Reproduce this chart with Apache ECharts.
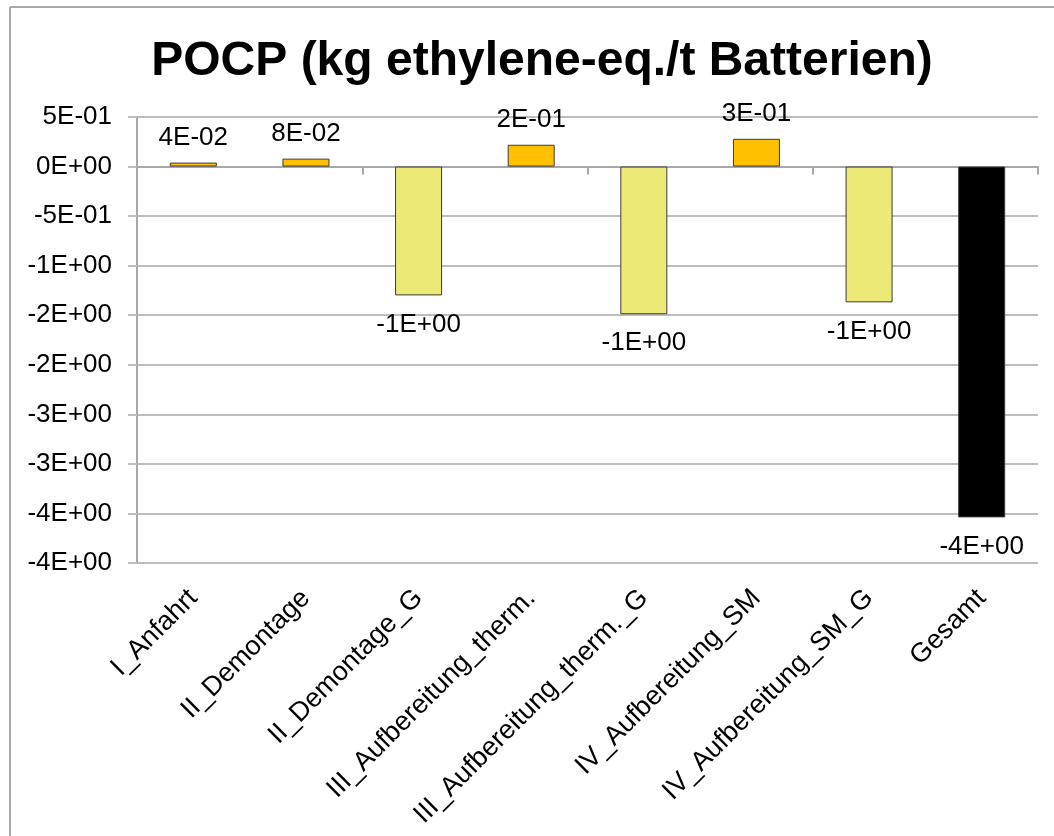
<!DOCTYPE html>
<html>
<head>
<meta charset="utf-8">
<style>
  html, body { margin: 0; padding: 0; background: #fff; }
  #chart { width: 1054px; height: 836px; }
</style>
<script src="https://cdn.jsdelivr.net/npm/echarts@6/dist/echarts.min.js"></script>
</head>
<body>
<div id="chart"></div>
<script>
// POCP per process step (kg ethylene-eq. per tonne of batteries)
const categories = [
  'I_Anfahrt',
  'II_Demontage',
  'II_Demontage_G',
  'III_Aufbereitung_therm.',
  'III_Aufbereitung_therm._G',
  'IV_Aufbereitung_SM',
  'IV_Aufbereitung_SM_G',
  'Gesamt'
];
const pocpValues = [0.04, 0.08, -1.30, 0.22, -1.49, 0.28, -1.37, -3.54];
const titleText = 'POCP (kg ethylene-eq./t Batterien)';

// Excel-style "0E+00" number format
function sci(v) {
  if (Math.abs(v) < 1e-12) return '0E+00';
  const s = v.toExponential(0);           // e.g. "-4e+0", "8e-2"
  const m = s.match(/^(-?\d)e([+-])(\d+)$/);
  const exp = m[3].length < 2 ? '0' + m[3] : m[3];
  return m[1] + 'E' + m[2] + exp;
}

const FONT = 'Liberation Sans, Arial, sans-serif';
const gridColor = '#bdbdbd';

function barColor(v, i) {
  if (i === categories.length - 1) return '#000000';
  return v >= 0 ? '#FFC000' : '#EDE977';
}

const barData = pocpValues.map((v, i) => ({
  value: v,
  itemStyle: { color: barColor(v, i) },
  label: {
    position: v >= 0 ? 'top' : 'bottom',
    distance: v >= 0 ? 12 : 16
  }
}));

const chart = echarts.init(document.getElementById('chart'));
chart.setOption({
  animation: false,
  backgroundColor: '#ffffff',
  title: {
    text: titleText,
    left: 537,
    textAlign: 'center',
    top: 33,
    textStyle: { fontFamily: FONT, fontSize: 48, fontWeight: 'bold', color: '#000' }
  },
  graphic: [
    { type: 'line', shape: { x1: 10, y1: 7, x2: 1054, y2: 7 }, style: { stroke: '#a8a8a8', lineWidth: 2 } },
    { type: 'line', shape: { x1: 10, y1: 7, x2: 10, y2: 836 }, style: { stroke: '#a8a8a8', lineWidth: 2 } }
  ],
  grid: { left: 137, right: 16, top: 117, bottom: 273, containLabel: false },
  xAxis: [
    {
      type: 'category',
      data: categories,
      position: 'bottom',
      axisLine: { show: false, onZero: false },
      axisTick: { show: false },
      axisLabel: {
        rotate: 45,
        margin: 31,
        interval: 0,
        fontFamily: FONT,
        fontSize: 27,
        color: '#000'
      },
      splitLine: { show: false }
    },
    {
      type: 'category',
      data: categories,
      position: 'top',
      axisLine: { show: true, onZero: true, lineStyle: { color: '#a8a8a8', width: 2 } },
      axisTick: { show: true, inside: true, length: 8, alignWithLabel: false, lineStyle: { color: '#a8a8a8', width: 2 } },
      axisLabel: { show: false },
      splitLine: { show: false }
    }
  ],
  yAxis: {
    type: 'value',
    min: -4,
    max: 0.5,
    interval: 0.5,
    axisLine: { show: true, lineStyle: { color: '#a8a8a8', width: 2 } },
    axisTick: { show: true, length: 9, lineStyle: { color: gridColor, width: 2 } },
    axisLabel: {
      margin: 25,
      fontFamily: FONT,
      fontSize: 26,
      color: '#000',
      formatter: sci
    },
    splitLine: { show: true, lineStyle: { color: gridColor, width: 2 } }
  },
  series: [{
    type: 'bar',
    xAxisIndex: 0,
    data: barData,
    barWidth: 47,
    itemStyle: { borderColor: '#3a3a3a', borderWidth: 1 },
    label: {
      show: true,
      fontFamily: FONT,
      fontSize: 26,
      color: '#000',
      formatter: p => sci(p.value)
    }
  }]
});
</script>
</body>
</html>
